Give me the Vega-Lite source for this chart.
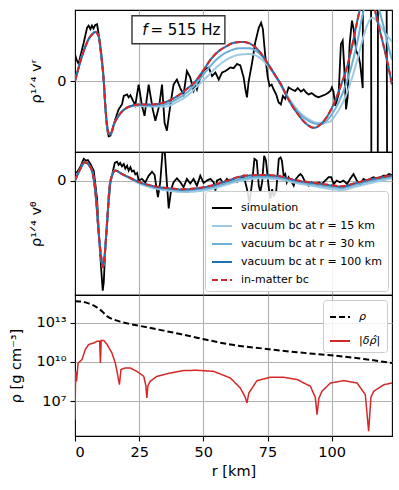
{
"$schema": "https://vega.github.io/schema/vega-lite/v6.json",
"padding": {"left": 8, "top": 9, "right": 4, "bottom": 5},
"spacing": 0,
"bounds": "flush",
"datasets": {
"p1": [
{"r":0,"v":0.38,"s":"S"},{"r":0.5,"v":0.31,"s":"S"},{"r":1.4,"v":0.24,"s":"S"},{"r":2.3,"v":0.38,"s":"S"},{"r":3.4,"v":0.54,"s":"S"},{"r":4.7,"v":0.75,"s":"S"},{"r":5.3,"v":0.78,"s":"S"},{"r":6,"v":0.73,"s":"S"},{"r":6.6,"v":0.78,"s":"S"},{"r":7.2,"v":0.74,"s":"S"},{"r":7.9,"v":0.79,"s":"S"},{"r":8.6,"v":0.8,"s":"S"},{"r":9.2,"v":0.66,"s":"S"},{"r":9.8,"v":0.48,"s":"S"},{"r":10.5,"v":0.26,"s":"S"},{"r":11.2,"v":0,"s":"S"},{"r":11.8,"v":-0.35,"s":"S"},{"r":12.5,"v":-0.68,"s":"S"},{"r":13.1,"v":-0.78,"s":"S"},{"r":13.8,"v":-0.77,"s":"S"},{"r":14.4,"v":-0.7,"s":"S"},{"r":15.7,"v":-0.54,"s":"S"},{"r":17,"v":-0.4,"s":"S"},{"r":18.3,"v":-0.33,"s":"S"},{"r":19,"v":-0.21,"s":"S"},{"r":20.3,"v":-0.19,"s":"S"},{"r":20.9,"v":-0.23,"s":"S"},{"r":21.6,"v":-0.2,"s":"S"},{"r":22.9,"v":-0.3,"s":"S"},{"r":23.5,"v":-0.34,"s":"S"},{"r":24.8,"v":-0.05,"s":"S"},{"r":26.1,"v":-0.35,"s":"S"},{"r":27.1,"v":-0.49,"s":"S"},{"r":28.7,"v":-0.05,"s":"S"},{"r":30.3,"v":-0.4,"s":"S"},{"r":31.3,"v":-0.56,"s":"S"},{"r":32.8,"v":-0.35,"s":"S"},{"r":33.9,"v":-0.05,"s":"S"},{"r":34.9,"v":-0.59,"s":"S"},{"r":35.8,"v":-0.7,"s":"S"},{"r":37.1,"v":-0.35,"s":"S"},{"r":38.4,"v":-0.05,"s":"S"},{"r":39.7,"v":0.02,"s":"S"},{"r":41,"v":-0.1,"s":"S"},{"r":42.3,"v":-0.19,"s":"S"},{"r":43.6,"v":0.14,"s":"S"},{"r":44.9,"v":0.05,"s":"S"},{"r":46.2,"v":-0.14,"s":"S"},{"r":47,"v":-0.07,"s":"S"},{"r":47.5,"v":-0.12,"s":"S"},{"r":48.2,"v":-0.02,"s":"S"},{"r":49.5,"v":0.12,"s":"S"},{"r":50.8,"v":0.17,"s":"S"},{"r":52.1,"v":0.19,"s":"S"},{"r":53.4,"v":0.07,"s":"S"},{"r":54.7,"v":0.12,"s":"S"},{"r":56,"v":0.02,"s":"S"},{"r":57.3,"v":0.12,"s":"S"},{"r":58.6,"v":0.14,"s":"S"},{"r":60.5,"v":0.19,"s":"S"},{"r":61.8,"v":0.18,"s":"S"},{"r":63.1,"v":0.24,"s":"S"},{"r":64.4,"v":0.22,"s":"S"},{"r":65.7,"v":0.05,"s":"S"},{"r":66.4,"v":-0.12,"s":"S"},{"r":67,"v":-0.23,"s":"S"},{"r":67.6,"v":-0.02,"s":"S"},{"r":69,"v":0.26,"s":"S"},{"r":70.2,"v":0.54,"s":"S"},{"r":71.6,"v":0.75,"s":"S"},{"r":72.5,"v":0.82,"s":"S"},{"r":73.2,"v":0.73,"s":"S"},{"r":74.1,"v":0.36,"s":"S"},{"r":75.1,"v":0.05,"s":"S"},{"r":75.8,"v":-0.07,"s":"S"},{"r":76.6,"v":-0.05,"s":"S"},{"r":77.4,"v":-0.12,"s":"S"},{"r":78.4,"v":-0.19,"s":"S"},{"r":79.3,"v":-0.3,"s":"S"},{"r":80.2,"v":-0.33,"s":"S"},{"r":81,"v":-0.21,"s":"S"},{"r":81.9,"v":-0.25,"s":"S"},{"r":83.2,"v":-0.09,"s":"S"},{"r":84.5,"v":-0.12,"s":"S"},{"r":85.8,"v":-0.14,"s":"S"},{"r":86.8,"v":-0.1,"s":"S"},{"r":88,"v":-0.15,"s":"S"},{"r":89.1,"v":-0.12,"s":"S"},{"r":90,"v":-0.16,"s":"S"},{"r":91,"v":-0.19,"s":"S"},{"r":92.2,"v":-0.17,"s":"S"},{"r":93.6,"v":-0.21,"s":"S"},{"r":94.9,"v":-0.23,"s":"S"},{"r":96.2,"v":-0.21,"s":"S"},{"r":97.5,"v":-0.19,"s":"S"},{"r":98.5,"v":-0.17,"s":"S"},{"r":99.5,"v":-0.14,"s":"S"},{"r":100.1,"v":-0.09,"s":"S"},{"r":100.7,"v":-0.15,"s":"S"},{"r":101.4,"v":-0.35,"s":"S"},{"r":102.2,"v":-0.25,"s":"S"},{"r":102.7,"v":-0.19,"s":"S"},{"r":103.6,"v":0.52,"s":"S"},{"r":104.3,"v":0.57,"s":"S"},{"r":104.9,"v":0.19,"s":"S"},{"r":105.6,"v":-0.4,"s":"S"},{"r":106.2,"v":-0.23,"s":"S"},{"r":107,"v":0.52,"s":"S"},{"r":107.9,"v":0.85,"s":"S"},{"r":108.6,"v":0.72,"s":"S"},{"r":109.6,"v":0.42,"s":"S"},{"r":110.5,"v":0.35,"s":"S"},{"r":111.1,"v":0.24,"s":"S"},{"r":112.1,"v":-0.1,"s":"S"},{"r":113.9,"v":30,"s":"S"},{"r":116.9,"v":-30,"s":"S"},{"r":119.1,"v":30,"s":"S"},{"r":123.9,"v":-30,"s":"S"},
{"r":0,"v":0,"s":"M"},{"r":1.5,"v":0.2,"s":"M"},{"r":2.7,"v":0.35,"s":"M"},{"r":4,"v":0.48,"s":"M"},{"r":5.3,"v":0.59,"s":"M"},{"r":6.5,"v":0.65,"s":"M"},{"r":8,"v":0.69,"s":"M"},{"r":9.2,"v":0.63,"s":"M"},{"r":10.3,"v":0.35,"s":"M"},{"r":11.2,"v":0,"s":"M"},{"r":11.8,"v":-0.35,"s":"M"},{"r":12.5,"v":-0.63,"s":"M"},{"r":13.4,"v":-0.75,"s":"M"},{"r":14.2,"v":-0.73,"s":"M"},{"r":15,"v":-0.63,"s":"M"},{"r":17,"v":-0.49,"s":"M"},{"r":19.6,"v":-0.39,"s":"M"},{"r":22,"v":-0.35,"s":"M"},{"r":25,"v":-0.33,"s":"M"},{"r":30,"v":-0.33,"s":"M"},{"r":35,"v":-0.3,"s":"M"},{"r":40,"v":-0.21,"s":"M"},{"r":44,"v":-0.1,"s":"M"},{"r":47,"v":0,"s":"M"},{"r":50,"v":0.15,"s":"M"},{"r":53,"v":0.31,"s":"M"},{"r":56,"v":0.42,"s":"M"},{"r":59,"v":0.49,"s":"M"},{"r":62,"v":0.54,"s":"M"},{"r":65.5,"v":0.55,"s":"M"},{"r":69,"v":0.51,"s":"M"},{"r":72,"v":0.41,"s":"M"},{"r":75,"v":0.25,"s":"M"},{"r":78,"v":0.08,"s":"M"},{"r":80,"v":-0.03,"s":"M"},{"r":83,"v":-0.25,"s":"M"},{"r":86.5,"v":-0.45,"s":"M"},{"r":90,"v":-0.6,"s":"M"},{"r":93,"v":-0.66,"s":"M"},{"r":96,"v":-0.6,"s":"M"},{"r":99.5,"v":-0.42,"s":"M"},{"r":102,"v":-0.22,"s":"M"},{"r":104,"v":-0.02,"s":"M"},{"r":106,"v":0.2,"s":"M"},{"r":108,"v":0.5,"s":"M"},{"r":110,"v":0.85,"s":"M"},{"r":112,"v":1.15,"s":"M"},{"r":114,"v":1.3,"s":"M"},{"r":115.5,"v":1.25,"s":"M"},{"r":117,"v":0.98,"s":"M"},{"r":119.6,"v":0.59,"s":"M"},{"r":121.5,"v":0.3,"s":"M"},{"r":123.5,"v":-0.05,"s":"M"},
{"r":0,"v":0,"s":"C"},{"r":1.5,"v":0.2,"s":"C"},{"r":2.7,"v":0.35,"s":"C"},{"r":4,"v":0.48,"s":"C"},{"r":5.3,"v":0.59,"s":"C"},{"r":6.5,"v":0.65,"s":"C"},{"r":8,"v":0.69,"s":"C"},{"r":9.2,"v":0.63,"s":"C"},{"r":10.3,"v":0.35,"s":"C"},{"r":11.2,"v":0,"s":"C"},{"r":11.8,"v":-0.35,"s":"C"},{"r":12.5,"v":-0.63,"s":"C"},{"r":13.4,"v":-0.75,"s":"C"},{"r":14.2,"v":-0.73,"s":"C"},{"r":15,"v":-0.63,"s":"C"},{"r":17,"v":-0.49,"s":"C"},{"r":19.6,"v":-0.39,"s":"C"},{"r":22,"v":-0.35,"s":"C"},{"r":25,"v":-0.33,"s":"C"},{"r":30,"v":-0.33,"s":"C"},{"r":35,"v":-0.3,"s":"C"},{"r":40,"v":-0.21,"s":"C"},{"r":44,"v":-0.1,"s":"C"},{"r":47,"v":0,"s":"C"},{"r":50,"v":0.15,"s":"C"},{"r":53,"v":0.31,"s":"C"},{"r":56,"v":0.42,"s":"C"},{"r":59,"v":0.49,"s":"C"},{"r":62,"v":0.54,"s":"C"},{"r":65.5,"v":0.55,"s":"C"},{"r":69,"v":0.51,"s":"C"},{"r":72,"v":0.41,"s":"C"},{"r":75,"v":0.25,"s":"C"},{"r":78,"v":0.08,"s":"C"},{"r":80,"v":-0.03,"s":"C"},{"r":83,"v":-0.25,"s":"C"},{"r":86.5,"v":-0.45,"s":"C"},{"r":90,"v":-0.6,"s":"C"},{"r":93,"v":-0.66,"s":"C"},{"r":96,"v":-0.6,"s":"C"},{"r":99.5,"v":-0.42,"s":"C"},{"r":102,"v":-0.22,"s":"C"},{"r":104,"v":-0.02,"s":"C"},{"r":106,"v":0.2,"s":"C"},{"r":108,"v":0.5,"s":"C"},{"r":110,"v":0.85,"s":"C"},{"r":112,"v":1.15,"s":"C"},{"r":114,"v":1.3,"s":"C"},{"r":115.5,"v":1.25,"s":"C"},{"r":117,"v":0.98,"s":"C"},{"r":119.6,"v":0.59,"s":"C"},{"r":121.5,"v":0.3,"s":"C"},{"r":123.5,"v":-0.05,"s":"C"},
{"r":0,"v":0,"s":"B"},{"r":1.5,"v":0.2,"s":"B"},{"r":2.7,"v":0.35,"s":"B"},{"r":4,"v":0.48,"s":"B"},{"r":5.3,"v":0.59,"s":"B"},{"r":6.5,"v":0.65,"s":"B"},{"r":8,"v":0.69,"s":"B"},{"r":9.2,"v":0.63,"s":"B"},{"r":10.3,"v":0.35,"s":"B"},{"r":11.2,"v":0,"s":"B"},{"r":11.8,"v":-0.35,"s":"B"},{"r":12.5,"v":-0.63,"s":"B"},{"r":13.4,"v":-0.75,"s":"B"},{"r":14.2,"v":-0.73,"s":"B"},{"r":15,"v":-0.63,"s":"B"},{"r":17,"v":-0.49,"s":"B"},{"r":19.6,"v":-0.39,"s":"B"},{"r":22,"v":-0.35,"s":"B"},{"r":25,"v":-0.34,"s":"B"},{"r":30,"v":-0.35,"s":"B"},{"r":35,"v":-0.33,"s":"B"},{"r":40,"v":-0.25,"s":"B"},{"r":44,"v":-0.15,"s":"B"},{"r":48,"v":0,"s":"B"},{"r":52,"v":0.18,"s":"B"},{"r":56,"v":0.33,"s":"B"},{"r":60,"v":0.42,"s":"B"},{"r":64,"v":0.46,"s":"B"},{"r":68,"v":0.46,"s":"B"},{"r":72,"v":0.38,"s":"B"},{"r":76,"v":0.2,"s":"B"},{"r":80,"v":-0.05,"s":"B"},{"r":84,"v":-0.3,"s":"B"},{"r":88,"v":-0.48,"s":"B"},{"r":92,"v":-0.58,"s":"B"},{"r":95.5,"v":-0.61,"s":"B"},{"r":99,"v":-0.52,"s":"B"},{"r":102,"v":-0.35,"s":"B"},{"r":105,"v":-0.1,"s":"B"},{"r":108,"v":0.25,"s":"B"},{"r":110,"v":0.55,"s":"B"},{"r":112.5,"v":1.0,"s":"B"},{"r":114,"v":1.15,"s":"B"},{"r":116,"v":1.18,"s":"B"},{"r":118,"v":1.05,"s":"B"},{"r":120,"v":0.8,"s":"B"},{"r":122,"v":0.5,"s":"B"},{"r":123.5,"v":0.3,"s":"B"},
{"r":0,"v":0,"s":"A"},{"r":1.5,"v":0.2,"s":"A"},{"r":2.7,"v":0.35,"s":"A"},{"r":4,"v":0.48,"s":"A"},{"r":5.3,"v":0.59,"s":"A"},{"r":6.5,"v":0.65,"s":"A"},{"r":8,"v":0.69,"s":"A"},{"r":9.2,"v":0.63,"s":"A"},{"r":10.3,"v":0.35,"s":"A"},{"r":11.2,"v":0,"s":"A"},{"r":11.8,"v":-0.35,"s":"A"},{"r":12.5,"v":-0.63,"s":"A"},{"r":13.4,"v":-0.75,"s":"A"},{"r":14.2,"v":-0.73,"s":"A"},{"r":15,"v":-0.63,"s":"A"},{"r":17,"v":-0.49,"s":"A"},{"r":19.6,"v":-0.39,"s":"A"},{"r":22,"v":-0.36,"s":"A"},{"r":25,"v":-0.35,"s":"A"},{"r":30,"v":-0.36,"s":"A"},{"r":35,"v":-0.36,"s":"A"},{"r":40,"v":-0.29,"s":"A"},{"r":44,"v":-0.2,"s":"A"},{"r":48,"v":-0.06,"s":"A"},{"r":52,"v":0.08,"s":"A"},{"r":56,"v":0.22,"s":"A"},{"r":60,"v":0.32,"s":"A"},{"r":64,"v":0.37,"s":"A"},{"r":68,"v":0.38,"s":"A"},{"r":71,"v":0.35,"s":"A"},{"r":75,"v":0.22,"s":"A"},{"r":79,"v":0.02,"s":"A"},{"r":83,"v":-0.22,"s":"A"},{"r":87,"v":-0.42,"s":"A"},{"r":91,"v":-0.54,"s":"A"},{"r":95,"v":-0.59,"s":"A"},{"r":98.8,"v":-0.58,"s":"A"},{"r":102,"v":-0.45,"s":"A"},{"r":105,"v":-0.25,"s":"A"},{"r":108,"v":0.05,"s":"A"},{"r":110,"v":0.3,"s":"A"},{"r":112,"v":0.58,"s":"A"},{"r":114,"v":0.8,"s":"A"},{"r":115.7,"v":0.89,"s":"A"},{"r":117.5,"v":0.85,"s":"A"},{"r":120,"v":0.72,"s":"A"},{"r":123.5,"v":0.55,"s":"A"}
],
"p2": [
{"r":0,"v":0.25,"s":"S"},{"r":1,"v":0.32,"s":"S"},{"r":2.2,"v":0.5,"s":"S"},{"r":3.4,"v":0.76,"s":"S"},{"r":4.3,"v":0.7,"s":"S"},{"r":5,"v":0.72,"s":"S"},{"r":6,"v":0.58,"s":"S"},{"r":7.3,"v":0.35,"s":"S"},{"r":8.6,"v":-0.64,"s":"S"},{"r":9.5,"v":-2.16,"s":"S"},{"r":10.3,"v":-3.21,"s":"S"},{"r":10.8,"v":-3.85,"s":"S"},{"r":11.2,"v":-3.56,"s":"S"},{"r":11.8,"v":-2.39,"s":"S"},{"r":12.9,"v":-0.99,"s":"S"},{"r":13.8,"v":-0.06,"s":"S"},{"r":14.7,"v":0.29,"s":"S"},{"r":15.5,"v":0.62,"s":"S"},{"r":16.4,"v":0.66,"s":"S"},{"r":17,"v":0.55,"s":"S"},{"r":17.6,"v":0.62,"s":"S"},{"r":18.3,"v":0.5,"s":"S"},{"r":19,"v":0.58,"s":"S"},{"r":19.6,"v":0.42,"s":"S"},{"r":20.3,"v":0.52,"s":"S"},{"r":20.9,"v":0.35,"s":"S"},{"r":21.6,"v":0.47,"s":"S"},{"r":22.2,"v":0.32,"s":"S"},{"r":22.9,"v":0.35,"s":"S"},{"r":23.5,"v":0.22,"s":"S"},{"r":24.2,"v":0.27,"s":"S"},{"r":24.8,"v":0,"s":"S"},{"r":26,"v":0.06,"s":"S"},{"r":27.4,"v":-0.06,"s":"S"},{"r":28.7,"v":0.17,"s":"S"},{"r":30,"v":0.31,"s":"S"},{"r":31,"v":0.2,"s":"S"},{"r":32.3,"v":-0.58,"s":"S"},{"r":33.2,"v":-0.06,"s":"S"},{"r":34.1,"v":1.0,"s":"S"},{"r":35,"v":0.98,"s":"S"},{"r":35.6,"v":0.17,"s":"S"},{"r":36.5,"v":-0.97,"s":"S"},{"r":37.5,"v":-0.29,"s":"S"},{"r":38.4,"v":-0.06,"s":"S"},{"r":39.7,"v":0.08,"s":"S"},{"r":41,"v":-0.05,"s":"S"},{"r":42.3,"v":-0.23,"s":"S"},{"r":43.6,"v":0.06,"s":"S"},{"r":44.9,"v":-0.1,"s":"S"},{"r":46.2,"v":0.06,"s":"S"},{"r":47.5,"v":-0.18,"s":"S"},{"r":48.8,"v":0.17,"s":"S"},{"r":50.1,"v":-0.08,"s":"S"},{"r":51.4,"v":0,"s":"S"},{"r":52.7,"v":0.06,"s":"S"},{"r":54,"v":-0.05,"s":"S"},{"r":54.7,"v":-0.35,"s":"S"},{"r":55.3,"v":0,"s":"S"},{"r":56.6,"v":0.06,"s":"S"},{"r":57.9,"v":-0.1,"s":"S"},{"r":59.2,"v":0.06,"s":"S"},{"r":60.5,"v":-0.05,"s":"S"},{"r":61.8,"v":0.02,"s":"S"},{"r":63.1,"v":-0.05,"s":"S"},{"r":64.4,"v":0.06,"s":"S"},{"r":65.7,"v":0.17,"s":"S"},{"r":67,"v":-0.29,"s":"S"},{"r":68,"v":-0.76,"s":"S"},{"r":69,"v":-0.06,"s":"S"},{"r":69.9,"v":0.76,"s":"S"},{"r":70.8,"v":0.7,"s":"S"},{"r":71.6,"v":-0.18,"s":"S"},{"r":72.2,"v":-0.4,"s":"S"},{"r":72.9,"v":-0.06,"s":"S"},{"r":73.7,"v":0.87,"s":"S"},{"r":74.4,"v":0.7,"s":"S"},{"r":75.4,"v":-0.18,"s":"S"},{"r":76.1,"v":-0.64,"s":"S"},{"r":76.8,"v":-0.3,"s":"S"},{"r":77.4,"v":-0.53,"s":"S"},{"r":78.4,"v":-0.36,"s":"S"},{"r":79.4,"v":0.76,"s":"S"},{"r":80.1,"v":0.81,"s":"S"},{"r":80.6,"v":0.7,"s":"S"},{"r":81.3,"v":0.17,"s":"S"},{"r":81.9,"v":0.23,"s":"S"},{"r":82.5,"v":-0.06,"s":"S"},{"r":83.2,"v":0.12,"s":"S"},{"r":84.5,"v":-0.06,"s":"S"},{"r":85.2,"v":-0.18,"s":"S"},{"r":86,"v":0.05,"s":"S"},{"r":87.1,"v":0.17,"s":"S"},{"r":87.8,"v":0.23,"s":"S"},{"r":88.5,"v":0.17,"s":"S"},{"r":89.7,"v":-0.06,"s":"S"},{"r":91,"v":-0.18,"s":"S"},{"r":92.2,"v":-0.06,"s":"S"},{"r":93.6,"v":-0.12,"s":"S"},{"r":94.9,"v":-0.06,"s":"S"},{"r":96.2,"v":-0.12,"s":"S"},{"r":97.5,"v":0,"s":"S"},{"r":98.8,"v":0.12,"s":"S"},{"r":99.8,"v":0.12,"s":"S"},{"r":100.8,"v":-0.12,"s":"S"},{"r":102,"v":0,"s":"S"},{"r":103.3,"v":-0.06,"s":"S"},{"r":104.6,"v":0,"s":"S"},{"r":106,"v":-0.12,"s":"S"},{"r":107.2,"v":0.06,"s":"S"},{"r":108.5,"v":0.23,"s":"S"},{"r":109.8,"v":0,"s":"S"},{"r":111.1,"v":-0.12,"s":"S"},{"r":112.4,"v":0.06,"s":"S"},{"r":113.7,"v":0,"s":"S"},{"r":115,"v":0.06,"s":"S"},{"r":116.3,"v":0.12,"s":"S"},{"r":117.6,"v":0.06,"s":"S"},{"r":118.9,"v":0.12,"s":"S"},{"r":120.2,"v":0.17,"s":"S"},{"r":121.5,"v":0.17,"s":"S"},{"r":122.3,"v":0.23,"s":"S"},{"r":123.5,"v":0.2,"s":"S"},
{"r":0,"v":0,"s":"M"},{"r":2,"v":0.4,"s":"M"},{"r":3.8,"v":0.64,"s":"M"},{"r":6,"v":0.47,"s":"M"},{"r":7.3,"v":0.06,"s":"M"},{"r":8.2,"v":-0.64,"s":"M"},{"r":9.2,"v":-1.81,"s":"M"},{"r":10.3,"v":-2.74,"s":"M"},{"r":10.8,"v":-3.03,"s":"M"},{"r":11.4,"v":-2.74,"s":"M"},{"r":12.5,"v":-1.46,"s":"M"},{"r":13.4,"v":-0.29,"s":"M"},{"r":14.4,"v":0.17,"s":"M"},{"r":15.7,"v":0.35,"s":"M"},{"r":18.3,"v":0.23,"s":"M"},{"r":20.9,"v":0.12,"s":"M"},{"r":24.8,"v":-0.04,"s":"M"},{"r":31.3,"v":-0.2,"s":"M"},{"r":37.8,"v":-0.27,"s":"M"},{"r":41.7,"v":-0.3,"s":"M"},{"r":47,"v":-0.27,"s":"M"},{"r":52.7,"v":-0.18,"s":"M"},{"r":59.2,"v":0,"s":"M"},{"r":65.7,"v":0.17,"s":"M"},{"r":72.2,"v":0.2,"s":"M"},{"r":78.7,"v":0.17,"s":"M"},{"r":84,"v":0.06,"s":"M"},{"r":87.1,"v":0,"s":"M"},{"r":93.6,"v":-0.08,"s":"M"},{"r":100,"v":-0.16,"s":"M"},{"r":104,"v":-0.2,"s":"M"},{"r":109.2,"v":-0.08,"s":"M"},{"r":115.7,"v":0.06,"s":"M"},{"r":122.3,"v":0.17,"s":"M"},{"r":123.5,"v":0.19,"s":"M"},
{"r":0,"v":0,"s":"C"},{"r":2,"v":0.4,"s":"C"},{"r":3.8,"v":0.64,"s":"C"},{"r":6,"v":0.47,"s":"C"},{"r":7.3,"v":0.06,"s":"C"},{"r":8.2,"v":-0.64,"s":"C"},{"r":9.2,"v":-1.81,"s":"C"},{"r":10.3,"v":-2.74,"s":"C"},{"r":10.8,"v":-3.03,"s":"C"},{"r":11.4,"v":-2.74,"s":"C"},{"r":12.5,"v":-1.46,"s":"C"},{"r":13.4,"v":-0.29,"s":"C"},{"r":14.4,"v":0.17,"s":"C"},{"r":15.7,"v":0.35,"s":"C"},{"r":18.3,"v":0.23,"s":"C"},{"r":20.9,"v":0.12,"s":"C"},{"r":24.8,"v":-0.04,"s":"C"},{"r":31.3,"v":-0.21,"s":"C"},{"r":37.8,"v":-0.28,"s":"C"},{"r":41.7,"v":-0.31,"s":"C"},{"r":47,"v":-0.28,"s":"C"},{"r":52.7,"v":-0.19,"s":"C"},{"r":59.2,"v":-0.01,"s":"C"},{"r":65.7,"v":0.16,"s":"C"},{"r":72.2,"v":0.19,"s":"C"},{"r":78.7,"v":0.16,"s":"C"},{"r":84,"v":0.05,"s":"C"},{"r":87.1,"v":-0.01,"s":"C"},{"r":93.6,"v":-0.09,"s":"C"},{"r":100,"v":-0.17,"s":"C"},{"r":104,"v":-0.21,"s":"C"},{"r":109.2,"v":-0.09,"s":"C"},{"r":115.7,"v":0.05,"s":"C"},{"r":122.3,"v":0.16,"s":"C"},{"r":123.5,"v":0.18,"s":"C"},
{"r":0,"v":0,"s":"B"},{"r":2,"v":0.4,"s":"B"},{"r":3.8,"v":0.64,"s":"B"},{"r":6,"v":0.47,"s":"B"},{"r":7.3,"v":0.06,"s":"B"},{"r":8.2,"v":-0.64,"s":"B"},{"r":9.2,"v":-1.81,"s":"B"},{"r":10.3,"v":-2.74,"s":"B"},{"r":10.8,"v":-3.03,"s":"B"},{"r":11.4,"v":-2.74,"s":"B"},{"r":12.5,"v":-1.46,"s":"B"},{"r":13.4,"v":-0.29,"s":"B"},{"r":14.4,"v":0.17,"s":"B"},{"r":15.7,"v":0.35,"s":"B"},{"r":18.3,"v":0.23,"s":"B"},{"r":20.9,"v":0.11,"s":"B"},{"r":24.8,"v":-0.07,"s":"B"},{"r":31,"v":-0.24,"s":"B"},{"r":38,"v":-0.32,"s":"B"},{"r":42,"v":-0.35,"s":"B"},{"r":47,"v":-0.32,"s":"B"},{"r":53,"v":-0.24,"s":"B"},{"r":59,"v":-0.08,"s":"B"},{"r":66,"v":0.08,"s":"B"},{"r":72,"v":0.13,"s":"B"},{"r":79,"v":0.1,"s":"B"},{"r":87,"v":-0.05,"s":"B"},{"r":94,"v":-0.15,"s":"B"},{"r":100,"v":-0.23,"s":"B"},{"r":104,"v":-0.26,"s":"B"},{"r":109,"v":-0.15,"s":"B"},{"r":116,"v":0,"s":"B"},{"r":123.5,"v":0.13,"s":"B"},
{"r":0,"v":0,"s":"A"},{"r":2,"v":0.4,"s":"A"},{"r":3.8,"v":0.64,"s":"A"},{"r":6,"v":0.47,"s":"A"},{"r":7.3,"v":0.06,"s":"A"},{"r":8.2,"v":-0.64,"s":"A"},{"r":9.2,"v":-1.81,"s":"A"},{"r":10.3,"v":-2.74,"s":"A"},{"r":10.8,"v":-3.03,"s":"A"},{"r":11.4,"v":-2.74,"s":"A"},{"r":12.5,"v":-1.46,"s":"A"},{"r":13.4,"v":-0.29,"s":"A"},{"r":14.4,"v":0.17,"s":"A"},{"r":15.7,"v":0.35,"s":"A"},{"r":18.3,"v":0.23,"s":"A"},{"r":20.9,"v":0.1,"s":"A"},{"r":24.8,"v":-0.09,"s":"A"},{"r":31,"v":-0.27,"s":"A"},{"r":38,"v":-0.37,"s":"A"},{"r":42,"v":-0.4,"s":"A"},{"r":47,"v":-0.38,"s":"A"},{"r":53,"v":-0.3,"s":"A"},{"r":59,"v":-0.14,"s":"A"},{"r":66,"v":0.02,"s":"A"},{"r":72,"v":0.08,"s":"A"},{"r":79,"v":0.05,"s":"A"},{"r":87,"v":-0.1,"s":"A"},{"r":94,"v":-0.21,"s":"A"},{"r":100,"v":-0.3,"s":"A"},{"r":104,"v":-0.33,"s":"A"},{"r":109,"v":-0.22,"s":"A"},{"r":116,"v":-0.07,"s":"A"},{"r":123.5,"v":0.08,"s":"A"}
],
"p3": [
{"r":0,"v":4.7e14,"s":"rho"},{"r":2,"v":4.5e14,"s":"rho"},{"r":4.7,"v":3.5e14,"s":"rho"},{"r":7.9,"v":1.91e14,"s":"rho"},{"r":10.5,"v":7.94e13,"s":"rho"},{"r":12.5,"v":3.31e13,"s":"rho"},{"r":15.1,"v":1.82e13,"s":"rho"},{"r":18,"v":1.2e13,"s":"rho"},{"r":21.5,"v":8.3e12,"s":"rho"},{"r":28,"v":4.68e12,"s":"rho"},{"r":34.5,"v":2.57e12,"s":"rho"},{"r":41,"v":1.41e12,"s":"rho"},{"r":47.5,"v":7.4e11,"s":"rho"},{"r":60.5,"v":2.19e11,"s":"rho"},{"r":73.5,"v":1.07e11,"s":"rho"},{"r":86.5,"v":5.6e10,"s":"rho"},{"r":99.5,"v":3.3e10,"s":"rho"},{"r":112.5,"v":1.7e10,"s":"rho"},{"r":123.5,"v":8.3e9,"s":"rho"},
{"r":0,"v":3.7e5,"s":"drho"},{"r":0.26,"v":1.9e9,"s":"drho"},{"r":0.6,"v":3.2e8,"s":"drho"},{"r":1.2,"v":8.3e9,"s":"drho"},{"r":2.7,"v":1.5e10,"s":"drho"},{"r":4,"v":8.9e10,"s":"drho"},{"r":5.3,"v":2.2e11,"s":"drho"},{"r":7.3,"v":2.9e11,"s":"drho"},{"r":8.6,"v":3.9e11,"s":"drho"},{"r":9.6,"v":4e11,"s":"drho"},{"r":9.9,"v":8.3e9,"s":"drho"},{"r":10.2,"v":4.5e11,"s":"drho"},{"r":11.2,"v":4.5e11,"s":"drho"},{"r":12.5,"v":2.2e11,"s":"drho"},{"r":14.4,"v":4.9e10,"s":"drho"},{"r":15.7,"v":8.3e9,"s":"drho"},{"r":16.6,"v":1.07e9,"s":"drho"},{"r":17.3,"v":1.8e8,"s":"drho"},{"r":17.9,"v":2.6e9,"s":"drho"},{"r":19.6,"v":3.5e9,"s":"drho"},{"r":21.5,"v":3.5e9,"s":"drho"},{"r":24.1,"v":1.9e9,"s":"drho"},{"r":26.8,"v":7.9e8,"s":"drho"},{"r":27.6,"v":1.5e8,"s":"drho"},{"r":28,"v":1.7e7,"s":"drho"},{"r":28.4,"v":1.5e8,"s":"drho"},{"r":29.3,"v":3.3e8,"s":"drho"},{"r":31.9,"v":7.9e8,"s":"drho"},{"r":37.1,"v":1.4e9,"s":"drho"},{"r":42.3,"v":2.2e9,"s":"drho"},{"r":47.5,"v":2.3e9,"s":"drho"},{"r":54,"v":1.9e9,"s":"drho"},{"r":60.5,"v":5.9e8,"s":"drho"},{"r":64.4,"v":1e8,"s":"drho"},{"r":66.3,"v":2e7,"s":"drho"},{"r":67,"v":7.1e6,"s":"drho"},{"r":67.7,"v":4e7,"s":"drho"},{"r":70.9,"v":3.7e8,"s":"drho"},{"r":76.1,"v":6.6e8,"s":"drho"},{"r":81.3,"v":6.6e8,"s":"drho"},{"r":86.5,"v":4.5e8,"s":"drho"},{"r":91.7,"v":1.35e8,"s":"drho"},{"r":93.6,"v":2e7,"s":"drho"},{"r":94.3,"v":8.9e5,"s":"drho"},{"r":95,"v":1.6e7,"s":"drho"},{"r":96.2,"v":5.6e7,"s":"drho"},{"r":99.5,"v":2.4e8,"s":"drho"},{"r":104.7,"v":3.7e8,"s":"drho"},{"r":109.9,"v":2.4e8,"s":"drho"},{"r":113.1,"v":3.1e7,"s":"drho"},{"r":114.4,"v":4.7e4,"s":"drho"},{"r":115.3,"v":2e7,"s":"drho"},{"r":116.4,"v":5.6e7,"s":"drho"},{"r":120.3,"v":1.8e8,"s":"drho"},{"r":123.5,"v":2.4e8,"s":"drho"}
],
"note": [{"a": "f", "b": "= 515 Hz"}]
},
"vconcat": [
{
"width": 317, "height": 142,
"layer": [
{
"data": {"name": "p1"},
"encoding": {
"x": {"field": "r", "type": "quantitative", "scale": {"domain": [0, 123.5], "nice": false, "zero": false}, "axis": {"values": [0, 25, 50, 75, 100], "labels": false, "ticks": false, "title": null, "gridOpacity": {"condition": {"test": "datum.value === 0", "value": 0}, "value": 1}}},
"y": {"field": "v", "type": "quantitative", "scale": {"domain": [-1, 1], "nice": false, "zero": false}, "axis": {"values": [0], "format": "d", "title": "ρ¹ᐟ⁴ vʳ", "titlePadding": 13}},
"color": {"field": "s", "type": "nominal", "scale": {"domain": ["S", "A", "B", "C", "M"], "range": ["#000000", "#9ecae1", "#6baed6", "#2171b5", "#d62728"]}, "legend": null},
"strokeDash": {"field": "s", "type": "nominal", "scale": {"domain": ["S", "A", "B", "C", "M"], "range": [[1, 0], [1, 0], [1, 0], [1, 0], [6, 3]]}, "legend": null}
},
"layer": [
{"transform": [{"filter": "datum.s == 'S'"}], "mark": {"type": "line", "clip": true, "strokeWidth": 1.8}},
{"transform": [{"filter": "datum.s == 'A'"}], "mark": {"type": "line", "clip": true, "strokeWidth": 2, "interpolate": "monotone"}},
{"transform": [{"filter": "datum.s == 'B'"}], "mark": {"type": "line", "clip": true, "strokeWidth": 2, "interpolate": "monotone"}},
{"transform": [{"filter": "datum.s == 'C'"}], "mark": {"type": "line", "clip": true, "strokeWidth": 2, "interpolate": "monotone"}},
{"transform": [{"filter": "datum.s == 'M'"}], "mark": {"type": "line", "clip": true, "strokeWidth": 2, "interpolate": "monotone"}}
]
},
{
"data": {"name": "note"},
"mark": {"type": "rect", "fill": "white", "stroke": "#333333", "strokeWidth": 1.4},
"encoding": {"x": {"datum": 22.2, "type": "quantitative"}, "x2": {"datum": 58.4}, "y": {"datum": 0.525, "type": "quantitative"}, "y2": {"datum": 0.92}}
},
{
"data": {"name": "note"},
"mark": {"type": "text", "align": "right", "baseline": "middle", "dx": -1, "fontSize": 15, "fontStyle": "italic", "font": "DejaVu Sans", "fill": "#000000"},
"encoding": {"x": {"datum": 28.6, "type": "quantitative"}, "y": {"datum": 0.72, "type": "quantitative"}, "text": {"field": "a", "type": "nominal"}}
},
{
"data": {"name": "note"},
"mark": {"type": "text", "align": "left", "baseline": "middle", "dx": 2, "fontSize": 15, "font": "DejaVu Sans", "fill": "#000000"},
"encoding": {"x": {"datum": 28.6, "type": "quantitative"}, "y": {"datum": 0.72, "type": "quantitative"}, "text": {"field": "b", "type": "nominal"}}
}
]
},
{
"width": 317, "height": 143,
"data": {"name": "p2"},
"encoding": {
"x": {"field": "r", "type": "quantitative", "scale": {"domain": [0, 123.5], "nice": false, "zero": false}, "axis": {"values": [0, 25, 50, 75, 100], "labels": false, "ticks": false, "title": null, "gridOpacity": {"condition": {"test": "datum.value === 0", "value": 0}, "value": 1}}},
"y": {"field": "v", "type": "quantitative", "scale": {"domain": [-4, 1], "nice": false, "zero": false}, "axis": {"values": [0], "format": "d", "title": "ρ¹ᐟ⁴ vᶿ", "titlePadding": 13}},
"color": {"field": "s", "type": "nominal", "scale": {"domain": ["S", "A", "B", "C", "M"], "range": ["#000000", "#9ecae1", "#6baed6", "#2171b5", "#d62728"]}, "legend": {"orient": "bottom-right", "offset": 4, "title": null, "labelExpr": "datum.label == 'S' ? 'simulation' : datum.label == 'A' ? 'vacuum bc at r = 15 km' : datum.label == 'B' ? 'vacuum bc at r = 30 km' : datum.label == 'C' ? 'vacuum bc at r = 100 km' : 'in-matter bc'"}},
"strokeDash": {"field": "s", "type": "nominal", "scale": {"domain": ["S", "A", "B", "C", "M"], "range": [[1, 0], [1, 0], [1, 0], [1, 0], [6, 3]]}, "legend": {"orient": "bottom-right", "offset": 4, "title": null, "labelExpr": "datum.label == 'S' ? 'simulation' : datum.label == 'A' ? 'vacuum bc at r = 15 km' : datum.label == 'B' ? 'vacuum bc at r = 30 km' : datum.label == 'C' ? 'vacuum bc at r = 100 km' : 'in-matter bc'"}}
},
"layer": [
{"transform": [{"filter": "datum.s == 'S'"}], "mark": {"type": "line", "clip": true, "strokeWidth": 1.8}},
{"transform": [{"filter": "datum.s == 'A'"}], "mark": {"type": "line", "clip": true, "strokeWidth": 2, "interpolate": "monotone"}},
{"transform": [{"filter": "datum.s == 'B'"}], "mark": {"type": "line", "clip": true, "strokeWidth": 2, "interpolate": "monotone"}},
{"transform": [{"filter": "datum.s == 'C'"}], "mark": {"type": "line", "clip": true, "strokeWidth": 2, "interpolate": "monotone"}},
{"transform": [{"filter": "datum.s == 'M'"}], "mark": {"type": "line", "clip": true, "strokeWidth": 2, "interpolate": "monotone"}}
]
},
{
"width": 317, "height": 141,
"data": {"name": "p3"},
"encoding": {
"x": {"field": "r", "type": "quantitative", "scale": {"domain": [0, 123.5], "nice": false, "zero": false}, "axis": {"values": [0, 25, 50, 75, 100], "title": "r [km]", "titlePadding": 6, "gridOpacity": {"condition": {"test": "datum.value === 0", "value": 0}, "value": 1}}},
"y": {"field": "v", "type": "quantitative", "scale": {"type": "log", "domain": [20400, 1.41e15], "nice": false}, "axis": {"values": [1e7, 1e10, 1e13], "title": "ρ [g cm⁻³]", "titlePadding": 12, "labelExpr": "datum.value < 1e8 ? '10⁷' : datum.value < 1e11 ? '10¹⁰' : '10¹³'"}},
"color": {"field": "s", "type": "nominal", "scale": {"domain": ["rho", "drho"], "range": ["#000000", "#d62728"]}, "legend": {"orient": "top-right", "offset": 5, "title": null, "rowPadding": 8, "labelFontStyle": "italic", "labelExpr": "datum.label == 'rho' ? 'ρ' : '|δρ̂|'"}},
"strokeDash": {"field": "s", "type": "nominal", "scale": {"domain": ["rho", "drho"], "range": [[6, 3], [1, 0]]}, "legend": {"orient": "top-right", "offset": 5, "title": null, "rowPadding": 8, "labelFontStyle": "italic", "labelExpr": "datum.label == 'rho' ? 'ρ' : '|δρ̂|'"}}
},
"layer": [
{"transform": [{"filter": "datum.s == 'rho'"}], "mark": {"type": "line", "clip": true, "strokeWidth": 2, "interpolate": "monotone"}},
{"transform": [{"filter": "datum.s == 'drho'"}], "mark": {"type": "line", "clip": true, "strokeWidth": 1.5}}
]
}
],
"resolve": {"scale": {"color": "independent", "strokeDash": "independent", "y": "independent"}, "legend": {"color": "independent", "strokeDash": "independent"}},
"config": {
"font": "DejaVu Sans",
"view": {"stroke": "#000000", "strokeWidth": 1.1},
"axis": {"labelFont": "DejaVu Sans", "titleFont": "DejaVu Sans", "labelFontSize": 14.5, "titleFontSize": 14.5, "titleFontWeight": "normal", "labelColor": "#000000", "titleColor": "#000000", "tickColor": "#000000", "tickSize": 5, "tickWidth": 1.1, "domain": false, "gridColor": "#b0b0b0", "gridWidth": 1.1, "labelPadding": 4},
"legend": {"labelFont": "DejaVu Sans", "labelFontSize": 11, "labelColor": "#000000", "symbolType": "stroke", "symbolSize": 400, "symbolStrokeWidth": 2, "fillColor": "rgba(255,255,255,0.85)", "strokeColor": "#cccccc", "cornerRadius": 3, "padding": 6, "rowPadding": 2, "labelOffset": 8}
}
}
